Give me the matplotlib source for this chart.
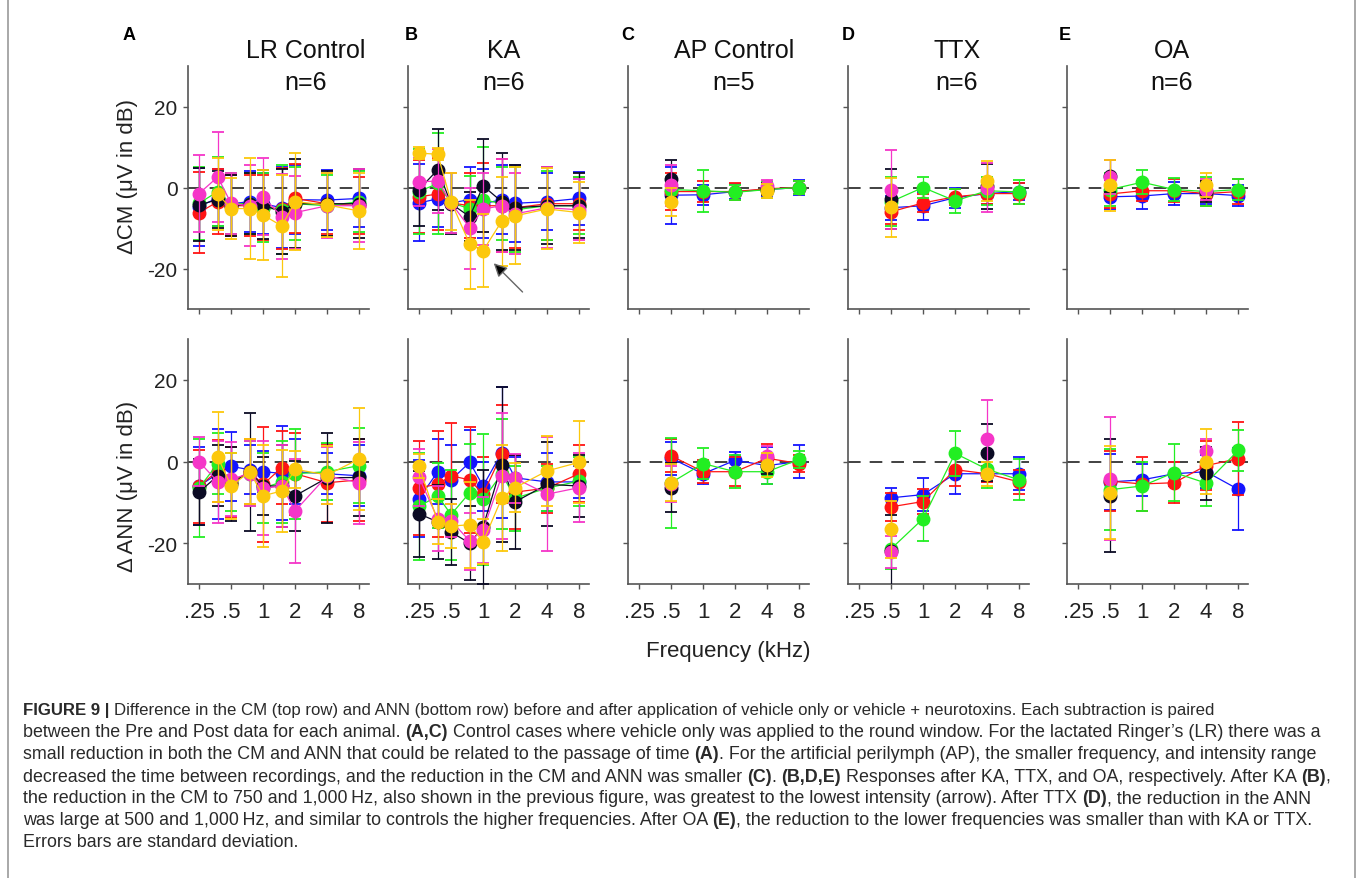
import numpy as np
import matplotlib
matplotlib.use("Agg")
import matplotlib.pyplot as plt
from matplotlib.lines import Line2D

nan = np.nan

# six intensity series, drawn in this order (last on top)
COLORS = ['#1414ff', '#ff1414', '#22ee22', '#0b0b24', '#f535c8', '#fcc80c']

FREQ_FULL = [0.25, 0.375, 0.5, 0.75, 1, 1.5, 2, 4, 8]
FREQ_SHORT = [0.5, 1, 2, 4, 8]
XTICKS = [0.25, 0.5, 1, 2, 4, 8]
XTICKLABELS = ['.25', '.5', '1', '2', '4', '8']

LETTERS = ['A', 'B', 'C', 'D', 'E']
TITLES = ['LR Control', 'KA', 'AP Control', 'TTX', 'OA']
NS = ['n=6', 'n=6', 'n=5', 'n=6', 'n=6']

# ---- A: LR control ----
A_CM_MEAN = [[-4.8, -2.5, -4.0, -3.5, -4.0, -5.0, -3.0, -3.1, -2.7],
             [-6.2, -3.5, -4.5, -4.5, -5.0, -5.2, -2.7, -4.0, -4.5],
             [-3.9, -1.0, -4.0, -4.0, -5.0, -5.5, -4.0, -4.5, -3.5],
             [-4.3, -3.0, -4.5, -4.0, -4.3, -6.0, -4.0, -4.0, -4.0],
             [-1.5, 2.6, -3.9, -4.5, -2.3, -7.2, -6.2, -4.5, -4.5],
             [nan, -1.6, -5.2, -5.2, -6.8, -9.5, -3.5, -4.3, -5.8]]
A_CM_SD = [[9.7, 7, 7.5, 7.5, 7.5, 10, 8.5, 7.5, 7],
           [10, 8, 7.5, 7.5, 8, 10, 8.5, 7.5, 7],
           [9, 8.5, 7.5, 7.5, 8.5, 11, 9, 7.5, 7.5],
           [9, 7, 7.5, 7.5, 8.5, 10.5, 11, 8, 8.5],
           [9.5, 11, 7.5, 10, 9.5, 10.5, 9, 8, 9],
           [nan, 9, 7.5, 12.5, 11, 12.5, 12, 8, 9.5]]
A_ANN_MEAN = [[-6.0, -3.0, -1.2, -2.0, -2.5, -2.9, -2.5, -3.0, -3.5],
              [-6.1, -2.3, -5.0, -2.5, -5.6, -1.5, -3.0, -5.2, -4.5],
              [-6.5, -0.5, -5.0, -3.0, -6.5, -5.0, -3.0, -2.5, -1.0],
              [-7.5, -3.5, -5.5, -2.5, -6.0, -6.0, -8.4, -4.0, -3.9],
              [0.0, -5.0, -4.3, -3.0, -6.6, -6.0, -12.1, -3.5, -5.2],
              [nan, 1.1, -6.0, -2.5, -8.4, -7.2, -1.9, -3.3, 0.6]]
A_ANN_SD = [[9.5, 11, 8.5, 6, 5, 11.5, 8, 5, 7.5],
            [9, 7.5, 8.5, 8, 14, 9, 10, 9.5, 10],
            [12, 7.5, 7, 8, 8.5, 10, 11, 7, 9.2],
            [8, 7.5, 9, 14.5, 7, 10, 8.5, 11, 9.5],
            [6, 10, 9, 8, 11.5, 10, 12.7, 7, 10],
            [nan, 11, 8, 8, 12.5, 10, 4.5, 7, 12.5]]

# ---- B: KA ----
B_CM_MEAN = [[-3.8, -2.8, -3.8, -3.0, -4.0, -3.0, -3.9, -3.5, -2.7],
             [-2.3, -1.6, -3.8, -4.5, -4.5, -4.5, -5.0, -4.0, -4.0],
             [-1.0, 1.0, -3.8, -5.2, -3.0, -4.0, -5.5, -4.5, -4.5],
             [-0.5, 4.4, -4.0, -7.2, 0.4, -3.5, -5.0, -4.5, -4.5],
             [1.4, 1.6, -3.8, -10.0, -5.3, -4.5, -6.5, -5.0, -5.5],
             [8.5, 8.2, -3.5, -14.0, -15.6, -8.3, -7.0, -5.3, -6.2]]
B_CM_SD = [[9.5, 7, 7.5, 8, 8.5, 8.5, 9.5, 7, 6.5],
           [9, 9, 7.5, 8, 10.5, 11.5, 10, 9, 6.5],
           [10.5, 12.5, 7.5, 8, 13, 9, 10.5, 8.5, 7],
           [9, 10, 7.5, 6, 11.5, 12, 10.5, 9.5, 8],
           [6, 8, 7.5, 10, 9, 11.5, 10, 10, 7.5],
           [1.5, 1.5, 7, 11, 9, 11, 12, 10, 7.5]]
B_ANN_MEAN = [[-9.1, -2.5, -4.5, -0.2, -6.0, 2.2, -4.0, -5.0, -5.0],
              [-6.4, -5.6, -3.5, -4.5, -8.0, 1.8, -7.5, -6.5, -3.0],
              [-11.0, -8.4, -13.0, -7.6, -9.3, -3.0, -9.0, -6.5, -4.8],
              [-12.8, -14.8, -17.3, -20.0, -16.0, -0.8, -9.9, -5.6, -6.0],
              [-3.9, -14.0, -14.5, -19.5, -16.8, -3.5, -4.1, -8.0, -6.4],
              [-1.1, -14.8, -15.8, -15.5, -19.7, -8.9, -6.4, -2.3, -0.2]]
B_ANN_SD = [[9.5, 8, 8.5, 8, 6, 16, 5, 7, 4],
            [11.5, 13, 13, 13, 9, 12, 9, 6, 7],
            [13, 8, 11, 12, 16, 13.5, 8, 5.5, 6],
            [10.5, 9, 8, 9, 14, 19, 11.5, 10.3, 7.5],
            [7, 8, 4, 7, 8, 15.5, 6, 14, 8.5],
            [3, 5.5, 5.5, 10.5, 5.5, 13, 6, 8.5, 10]]

# ---- C: AP control ----
C_CM_MEAN = [[-1.9, -1.8, -1.0, -0.5, 0.0],
             [-1.0, -1.0, -1.0, -0.3, 0.0],
             [-0.5, -0.8, -1.2, -0.5, 0.0],
             [2.2, nan, nan, -0.3, nan],
             [0.5, nan, nan, 0.3, nan],
             [-3.5, nan, nan, -0.8, nan]]
C_CM_SD = [[7, 2.5, 1.8, 1.5, 1.8],
           [4.5, 2.5, 2, 1.5, 1.5],
           [3, 5.2, 1.8, 2.2, 1.5],
           [4.5, nan, nan, 1.5, nan],
           [5, nan, nan, 1.5, nan],
           [3.5, nan, nan, 1.7, nan]]
C_ANN_MEAN = [[0.8, -3.0, 0.3, -1.0, 0.0],
              [1.4, -2.5, -2.5, 0.8, -0.5],
              [-5.2, -0.5, -2.5, -2.5, 0.5],
              [-6.4, nan, nan, -1.0, nan],
              [-5.5, nan, nan, 1.4, nan],
              [-5.2, nan, nan, -0.8, nan]]
C_ANN_SD = [[4, 2.5, 2, 4.5, 4],
            [4, 2.8, 3.5, 3.5, 2],
            [11, 3.8, 4, 3, 2],
            [6, nan, nan, 2, nan],
            [4.5, nan, nan, 2.5, nan],
            [4.5, nan, nan, 3, nan]]

# ---- D: TTX ----
D_CM_MEAN = [[-5.0, -4.5, -2.5, -1.5, -1.0],
             [-6.0, -3.8, -2.3, -1.5, -1.5],
             [-3.5, 0.0, -3.3, -0.8, -1.1],
             [-2.9, nan, nan, 0.3, nan],
             [-0.5, nan, nan, 0.0, nan],
             [-4.9, nan, nan, 1.6, nan]]
D_CM_SD = [[3, 3.5, 2.5, 2.5, 2],
           [3, 2.2, 2, 2.5, 2.5],
           [6, 2.5, 3, 3.5, 3],
           [7.4, nan, nan, 5.5, nan],
           [9.7, nan, nan, 6, nan],
           [7.3, nan, nan, 5, nan]]
D_ANN_MEAN = [[-8.9, -8.1, -3.0, -3.0, -3.0],
              [-11.1, -9.8, -2.0, -3.0, -5.0],
              [-21.4, -14.0, 2.0, -1.9, -4.5],
              [-22.0, nan, nan, 2.2, nan],
              [-22.2, nan, nan, 5.5, nan],
              [-16.6, nan, nan, -3.1, nan]]
D_ANN_SD = [[2.5, 4, 5, 2, 4],
            [3.5, 3, 4, 2, 3],
            [5, 5.5, 5.5, 4.5, 5],
            [9, nan, nan, 7, nan],
            [4, nan, nan, 9.5, nan],
            [7, nan, nan, 3, nan]]

# ---- E: OA ----
E_CM_MEAN = [[-2.3, -2.1, -1.5, -1.5, -2.0],
             [-1.6, -0.8, -0.8, -1.5, -1.0],
             [-0.5, 1.3, -0.5, -1.0, -0.5],
             [2.8, nan, nan, -1.0, nan],
             [2.5, nan, nan, -0.5, nan],
             [0.6, nan, nan, 0.6, nan]]
E_CM_SD = [[3, 3.2, 2.8, 2.5, 2.5],
           [3.5, 2.5, 2.8, 3, 3],
           [4, 3, 2.8, 3.5, 2.5],
           [4, nan, nan, 2.5, nan],
           [4.2, nan, nan, 2.5, nan],
           [6.3, nan, nan, 3, nan]]
E_ANN_MEAN = [[-5.0, -4.5, -3.0, -2.5, -6.8],
              [-4.8, -5.5, -5.2, -1.0, 0.7],
              [-6.9, -6.0, -2.7, -5.3, 2.7],
              [-8.4, nan, nan, -2.9, nan],
              [-4.2, nan, nan, 2.6, nan],
              [-7.6, nan, nan, 0.0, nan]]
E_ANN_SD = [[6.8, 4, 3, 4, 10],
            [7.4, 6.5, 5, 6, 9],
            [9.9, 6, 7, 5.5, 5],
            [13.8, nan, nan, 6.5, nan],
            [15, nan, nan, 3, nan],
            [11.5, nan, nan, 8, nan]]

PANELS = [
    (FREQ_FULL, A_CM_MEAN, A_CM_SD, A_ANN_MEAN, A_ANN_SD),
    (FREQ_FULL, B_CM_MEAN, B_CM_SD, B_ANN_MEAN, B_ANN_SD),
    (FREQ_SHORT, C_CM_MEAN, C_CM_SD, C_ANN_MEAN, C_ANN_SD),
    (FREQ_SHORT, D_CM_MEAN, D_CM_SD, D_ANN_MEAN, D_ANN_SD),
    (FREQ_SHORT, E_CM_MEAN, E_CM_SD, E_ANN_MEAN, E_ANN_SD),
]

CAPTION = [
    [("FIGURE 9 | ", True), ("Difference in the CM (top row) and ANN (bottom row) before and after application of vehicle only or vehicle + neurotoxins. Each subtraction is paired", False)],
    [("between the Pre and Post data for each animal. ", False), ("(A,C)", True), (" Control cases where vehicle only was applied to the round window. For the lactated Ringer\u2019s (LR) there was a", False)],
    [("small reduction in both the CM and ANN that could be related to the passage of time ", False), ("(A)", True), (". For the artificial perilymph (AP), the smaller frequency, and intensity range", False)],
    [("decreased the time between recordings, and the reduction in the CM and ANN was smaller ", False), ("(C)", True), (". ", False), ("(B,D,E)", True), (" Responses after KA, TTX, and OA, respectively. After KA ", False), ("(B)", True), (",", False)],
    [("the reduction in the CM to 750 and 1,000\u2009Hz, also shown in the previous figure, was greatest to the lowest intensity (arrow). After TTX ", False), ("(D)", True), (", the reduction in the ANN", False)],
    [("was large at 500 and 1,000\u2009Hz, and similar to controls the higher frequencies. After OA ", False), ("(E)", True), (", the reduction to the lower frequencies was smaller than with KA or TTX.", False)],
    [("Errors bars are standard deviation.", False)],
]
CAPTION_SIZES = [12.1, 12.9, 12.9, 12.9, 12.9, 12.9, 12.9]

# ---------------------------------------------------------------
W, H = 1358, 879
plt.rcParams['font.family'] = ['Liberation Sans', 'DejaVu Sans']
plt.rcParams['axes.unicode_minus'] = False
fig = plt.figure(figsize=(W / 100, H / 100), dpi=100)

col_left = [188, 408, 628, 848, 1067]
ax_w = 181
rows = [(67, 243), (340, 245)]
title_x = [0.65, 0.53, 0.585, 0.60, 0.58]
letter_x = [129, 411, 628, 848, 1065]


def px_axes(left, top, w, h):
    return fig.add_axes([left / W, 1 - (top + h) / H, w / W, h / H])


def style_axes(ax, show_y, show_x):
    ax.set_xscale('log', base=2)
    ax.set_xlim(0.197, 9.9)
    ax.set_ylim(-30, 30)
    ax.spines['top'].set_visible(False)
    ax.spines['right'].set_visible(False)
    for s in ('left', 'bottom'):
        ax.spines[s].set_color('#555555')
        ax.spines[s].set_linewidth(1.2)
    ax.set_xticks(XTICKS)
    ax.set_xticks([], minor=True)
    ax.set_yticks([-20, 0, 20])
    ax.tick_params(direction='out', length=3.5, width=1, color='#555555',
                   labelcolor='#222222')
    ax.tick_params(axis='y', labelsize=15, pad=4)
    ax.tick_params(axis='x', labelsize=16, pad=9)
    if show_x:
        ax.set_xticklabels(XTICKLABELS)
    else:
        ax.set_xticklabels([])
    if not show_y:
        ax.set_yticklabels([])
    ax.axhline(0, color='#333333', lw=1.3, ls=(0, (7, 5)), zorder=1)


for i, (freq, cm_m, cm_s, ann_m, ann_s) in enumerate(PANELS):
    for r, (mean, sd) in enumerate([(cm_m, cm_s), (ann_m, ann_s)]):
        top, h = rows[r]
        ax = px_axes(col_left[i], top, ax_w, h)
        style_axes(ax, show_y=(i == 0), show_x=(r == 1))
        for k, c in enumerate(COLORS):
            ax.errorbar(freq, mean[k], yerr=sd[k], color=c, marker='o', ms=9,
                        mec=c, lw=0.9, elinewidth=0.9, capsize=4.5,
                        capthick=1.3, zorder=2 + k)
        if r == 0:
            ax.text(title_x[i], 1.066, TITLES[i], transform=ax.transAxes,
                    ha='center', va='center', fontsize=18, color='#111111')
            ax.text(title_x[i], 0.934, NS[i], transform=ax.transAxes,
                    ha='center', va='center', fontsize=18, color='#111111')
            fig.text(letter_x[i] / W, 1 - 35 / H, LETTERS[i], ha='center',
                     va='center', fontsize=13, fontweight='bold')
            if i == 1:
                ax.annotate('', xy=(1.26, -18.7), xytext=(2.35, -25.8),
                            arrowprops=dict(arrowstyle='-|>,head_length=0.8,head_width=0.4',
                                            fc='black', ec='#666666', lw=1.0,
                                            shrinkA=0, shrinkB=0), zorder=20)

fig.text(127 / W, 1 - 177 / H, '\u0394CM (\u03bcV in dB)', rotation=90,
         ha='center', va='center', fontsize=16, color='#222222')
fig.text(127 / W, 1 - 486 / H, '\u0394 ANN (\u03bcV in dB)', rotation=90,
         ha='center', va='center', fontsize=16, color='#222222')
fig.text(728 / W, 1 - 652 / H, 'Frequency (kHz)', ha='center', va='center',
         fontsize=16, color='#222222')

# frame lines at both sides
for xp in (8, 1355):
    fig.add_artist(Line2D([xp / W, xp / W], [0, 1], transform=fig.transFigure,
                          color='#999999', lw=1.2))

# caption with mixed bold / normal runs
renderer = fig.canvas.get_renderer()
cap_fam = ['Liberation Sans', 'DejaVu Sans']


def run_width(s, weight, size):
    t = fig.text(0, 0, 'x' + s + 'x', fontsize=size, fontweight=weight,
                 family=cap_fam)
    w1 = t.get_window_extent(renderer).width
    t.set_text('xx')
    w0 = t.get_window_extent(renderer).width
    t.remove()
    return w1 - w0


for li, parts in enumerate(CAPTION):
    x = 23
    y = 711 + li * 22
    size = CAPTION_SIZES[li]
    for txt, bold in parts:
        wgt = 'bold' if bold else 'normal'
        fig.text(x / W, 1 - y / H, txt, fontsize=size, fontweight=wgt,
                 family=cap_fam, ha='left', va='center', color='#2a2a2a')
        x += run_width(txt, wgt, size)

fig.savefig('out.png', dpi=100)
